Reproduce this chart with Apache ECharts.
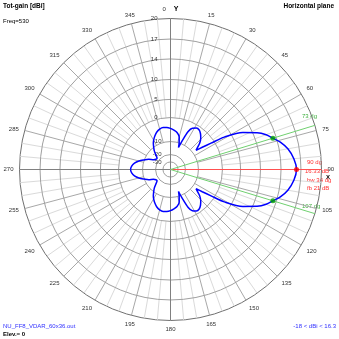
<!DOCTYPE html>
<html><head><meta charset="utf-8">
<script src="https://cdn.jsdelivr.net/npm/echarts@6/dist/echarts.min.js"></script>
<style>html,body{margin:0;padding:0;background:#fff}#c{width:339px;height:339px}</style>
</head><body><div id="c"></div>
<script>
// Azimuth (deg, clockwise from Y) and total gain (dBi) of the horizontal pattern
const azimuth = [0,5,10,15,18,20,22,25,28,32,36,40,44,48,51,53,55,57,59,63,67,70,73,76,80,85,90,
  95,100,104,107,110,113,117,121,123,125,127,129,132,136,140,144,148,152,155,158,160,162,165,170,175,180,
  185,190,195,200,205,209,213,217,221,225,230,235,240,245,250,255,260,265,270,
  275,280,285,290,295,300,305,310,315,319,323,327,331,335,340,345,350,355,360];
const gainDbi = [-4.5,-5.2,-6.0,-7.6,-10,-13.5,-9,-4.2,-2.2,-1.3,-1.3,-2.2,-3.5,-5.3,-7.2,-8.3,-5.5,-1.5,3.0,7.8,10.8,12.3,13.33,14.4,15.3,16.0,16.33,
  16.0,15.3,14.4,13.33,12.3,10.8,7.8,3.0,-1.5,-5.5,-8.3,-7.2,-5.3,-3.5,-2.2,-1.3,-1.3,-2.2,-4.2,-9,-13.5,-10,-7.6,-6.0,-5.2,-4.5,
  -4.1,-3.9,-4.2,-5.0,-6.2,-7.3,-8.5,-10,-12.5,-15.5,-18,-17.8,-16.5,-13,-10,-8,-6.4,-5.4,-5.0,
  -5.4,-6.4,-8,-10,-13,-16.5,-17.8,-18,-15.5,-12.5,-10,-8.5,-7.3,-6.2,-5.0,-4.2,-3.9,-4.1,-4.5];

// dB rings of the radial scale and angle ticks
const ringDb = [20, 17, 14, 10, 5, 0, -10, -20, -30];
const angleTicks = [0,15,30,45,60,75,90,105,120,135,150,165,180,195,210,225,240,255,270,285,300,315,330,345];

// Beam summary
const peakAz = 90, peakGain = 16.33;
const halfPowerAz = [73, 107];
const halfPowerGain = 13.33;
const beamwidth = 34, frontBack = 21;
const freqMhz = 530;
const gainLow = -18, gainHigh = 16.3;
const fileName = 'NU_FF8_VDAR_60x36.out';
const elevation = 0;

// Radial scale: fraction of the plot radius where each dB ring sits (log-like compression)
const ringFrac = [1, 0.864, 0.732, 0.596, 0.464, 0.344, 0.185, 0.099, 0.05];
function dbToRadius(db) {
  if (db >= ringDb[0]) return 1;
  for (let i = 0; i < ringDb.length - 1; i++) {
    if (db <= ringDb[i] && db >= ringDb[i + 1]) {
      const t = (db - ringDb[i + 1]) / (ringDb[i] - ringDb[i + 1]);
      return ringFrac[i + 1] + t * (ringFrac[i] - ringFrac[i + 1]);
    }
  }
  return Math.max(0, ringFrac[ringFrac.length - 1] * (db + 40) / 10);
}

const FONT = '"Liberation Sans", Arial, sans-serif';
const chart = echarts.init(document.getElementById('c'));

function gridItem(params, api) {
  const c = api.coord([0, 0]);
  const rad = (v) => { const p = api.coord([v, 0]); return Math.hypot(p[0] - c[0], p[1] - c[1]); };
  const children = [];
  // spokes: light every 5 deg, grey every 15 deg, dark main axes
  for (let a = 0; a < 360; a += 5) {
    let r0, stroke;
    if (a % 90 === 0) { r0 = 0; stroke = '#808080'; }
    else if (a % 15 === 0) { r0 = dbToRadius(-10); stroke = '#a8a8a8'; }
    else { r0 = dbToRadius(0); stroke = '#dadada'; }
    const p0 = api.coord([r0, a]), p1 = api.coord([1, a]);
    children.push({ type: 'line', z2: a % 90 === 0 ? 3 : (a % 15 === 0 ? 2 : 1),
      shape: { x1: p0[0], y1: p0[1], x2: p1[0], y2: p1[1] },
      style: { stroke, lineWidth: 1 } });
  }
  // dB rings
  ringDb.forEach((d, i) => {
    if (i === 0) return;
    children.push({ type: 'circle', z2: 2, shape: { cx: c[0], cy: c[1], r: rad(dbToRadius(d)) },
      style: { fill: null, stroke: '#a0a0a0', lineWidth: 1 } });
  });
  // ring values
  ringDb.forEach((d) => {
    const r = rad(dbToRadius(d));
    const xr = d >= 0 ? c[0] - 13 : c[0] - 9;
    children.push({ type: 'text', z2: 5,
      style: { text: String(d), x: xr, y: c[1] - r, align: 'right', verticalAlign: 'middle',
        font: '6px ' + FONT, fill: '#333' } });
  });
  return { type: 'group', children };
}

chart.setOption({
  animation: false,
  backgroundColor: '#fff',
  polar: { center: [170.5, 169.5], radius: 151 },
  angleAxis: {
    type: 'value', min: 0, max: 360, interval: 15, startAngle: 90, clockwise: true,
    axisLine: { show: true, lineStyle: { color: '#707070', width: 1 } },
    axisTick: { show: false },
    splitLine: { show: false },
    axisLabel: {
      margin: 6, fontSize: 6, color: '#333', fontFamily: FONT,
      formatter: (v) => v === 0 ? '{a|0}{s|}{y|Y}' : (angleTicks.indexOf(v) >= 0 ? String(v) : ''),
      rich: { a: { fontSize: 6, color: '#333', fontFamily: FONT }, s: { width: 8 },
        y: { fontSize: 7, color: '#000', fontWeight: 'bold', fontFamily: FONT } }
    }
  },
  radiusAxis: { type: 'value', min: 0, max: 1, show: false },
  series: [
    { type: 'custom', coordinateSystem: 'polar', silent: true, z: 1, data: [[0, 0]], renderItem: gridItem },
    { type: 'line', coordinateSystem: 'polar', z: 3, clip: false, showSymbol: false, silent: true,
      lineStyle: { color: '#ff5050', width: 1 }, data: [[0, peakAz], [1.05, peakAz]] },
    ...halfPowerAz.map((a) => ({ type: 'line', coordinateSystem: 'polar', z: 3, clip: false, showSymbol: false, silent: true,
      lineStyle: { color: '#70d070', width: 1 }, data: [[0, a], [1.03, a]] })),
    { type: 'line', coordinateSystem: 'polar', z: 4, showSymbol: false, smooth: 0.3,
      lineStyle: { color: '#0000ff', width: 1.5 },
      data: azimuth.map((a, i) => [dbToRadius(gainDbi[i]), a]) },
    { type: 'scatter', coordinateSystem: 'polar', z: 5, symbolSize: 5,
      itemStyle: { color: '#ff0000' }, data: [[dbToRadius(peakGain), peakAz]] },
    { type: 'scatter', coordinateSystem: 'polar', z: 5, symbolSize: 5,
      itemStyle: { color: '#00a000' }, data: halfPowerAz.map((a) => [dbToRadius(halfPowerGain), a]) }
  ],
  graphic: [
    { type: 'text', left: 3, top: 3, style: { text: 'Tot-gain [dBi]', font: 'bold 6.5px ' + FONT, fill: '#000' } },
    { type: 'text', right: 5, top: 3, style: { text: 'Horizontal plane', font: 'bold 6.5px ' + FONT, fill: '#000' } },
    { type: 'text', left: 3, top: 18, style: { text: 'Freq=' + freqMhz, font: '6px ' + FONT, fill: '#000' } },
    { type: 'text', left: 3, top: 323, style: { text: fileName, font: '6px ' + FONT, fill: '#3030ff' } },
    { type: 'text', left: 3, top: 331, style: { text: 'Elev.= ' + elevation, font: 'bold 6px ' + FONT, fill: '#000' } },
    { type: 'text', right: 3, top: 323, style: { text: gainLow + ' < dBi < ' + gainHigh, font: '6px ' + FONT, fill: '#3030ff' } },
    { type: 'text', left: 326, top: 174, style: { text: 'X', font: 'bold 6px ' + FONT, fill: '#000' } },
    { type: 'text', left: 307, top: 159, style: { text: peakAz + ' dg', font: '6px ' + FONT, fill: '#ff3030' } },
    { type: 'text', left: 305, top: 168, style: { text: peakGain.toFixed(2) + ' dB', font: '6px ' + FONT, fill: '#ff3030' } },
    { type: 'text', left: 307, top: 177, style: { text: 'bw ' + beamwidth + ' dg', font: '6px ' + FONT, fill: '#ff3030' } },
    { type: 'text', left: 307, top: 185, style: { text: 'fb ' + frontBack + ' dB', font: '6px ' + FONT, fill: '#ff3030' } },
    { type: 'text', left: 302, top: 113, style: { text: halfPowerAz[0] + ' dg', font: '6px ' + FONT, fill: '#40b040' } },
    { type: 'text', left: 302, top: 203, style: { text: halfPowerAz[1] + ' dg', font: '6px ' + FONT, fill: '#40b040' } }
  ]
});
</script></body></html>
